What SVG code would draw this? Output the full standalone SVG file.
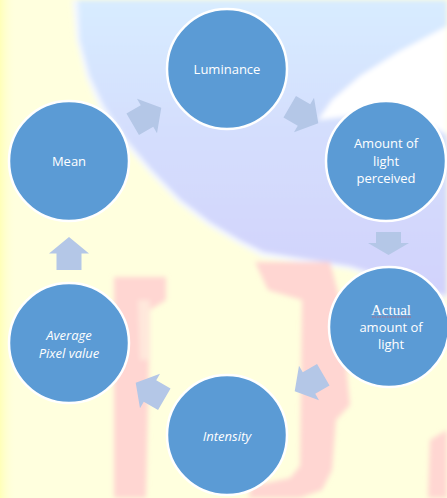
<svg xmlns="http://www.w3.org/2000/svg" width="447" height="498" viewBox="0 0 447 498">
<defs>
<style>
.node circle{fill:#5B9BD5;stroke:#FFFFFF;stroke-width:2.5}
.node text{fill:#FFFFFF;font-family:"Open Sans","Noto Sans",sans-serif;font-size:13px;text-anchor:middle}
.it{font-style:italic}
.arrow{fill:#B4C7E7}
.pink{fill:#FFD6D2}
</style>
<linearGradient id="blueG" x1="0" y1="0" x2="0" y2="1">
<stop offset="0" stop-color="#D8ECFF"/>
<stop offset="0.45" stop-color="#D4DEFD"/>
<stop offset="1" stop-color="#D2D2FC"/>
</linearGradient>
<linearGradient id="leftG" x1="0" y1="0" x2="1" y2="0">
<stop offset="0" stop-color="#FFFFB8"/>
<stop offset="1" stop-color="#FFFFDC" stop-opacity="0"/>
</linearGradient>
<filter id="soft" x="-10%" y="-10%" width="120%" height="120%"><feGaussianBlur stdDeviation="2.5"/></filter>
<path id="arr" d="M-16.5,-12.5 H0 V-20 L16.5,0 L0,20 V12.5 H-16.5 Z"/>
</defs>

<g id="background">
<rect x="0" y="0" width="447" height="498" fill="#FFFFDE"/>
<rect x="0" y="0" width="16" height="498" fill="url(#leftG)"/>
<g filter="url(#soft)">
<path d="M72,0 L447,0 L447,300 L420,292 L350,270 L300,262 L262,257 L238,244 L208,226 L178,203 L150,174 L122,142 L100,110 L86,78 L76,40 Z" fill="#F4F8FF"/>
<path d="M78,0 L447,0 L447,296 L420,288 L350,266 L300,258 L264,252 L240,240 L210,222 L180,199 L152,170 L125,138 L104,106 L90,76 L80,40 Z" fill="url(#blueG)"/>
<path d="M318,120 L332,100 L360,76 L398,52 L447,26 L447,135 L400,108 L350,116 Z" fill="#FFFFFF"/>
<path class="pink" d="M255,262 L330,262 L340,300 L348,385 L350,405 L336,420 L332,470 L322,490 L300,498 L248,498 L252,486 L290,478 L300,466 L302,300 L268,290 Z"/>
<path class="pink" d="M114,277 L166,277 L166,300 L150,310 L146,498 L114,498 Z"/>
<path d="M138,300 L150,300 L150,360 L140,360 Z" fill="#FFE8DC"/>
<path class="pink" d="M430,440 L447,430 L447,498 L428,498 Z"/>
</g>
</g>

<g id="connectors">
<use href="#arr" class="arrow" transform="translate(147,116) rotate(-30)"/>
<use href="#arr" class="arrow" transform="translate(304,115) rotate(30)"/>
<path class="arrow" d="M376,232 H401 V243 H409 L388.5,255 L368,243 H376 Z"/>
<use href="#arr" class="arrow" transform="translate(309,383) rotate(150)"/>
<use href="#arr" class="arrow" transform="translate(150,391) rotate(210)"/>
<use href="#arr" class="arrow" transform="translate(69,253.5) rotate(-90)"/>
</g>

<g id="luminance" class="node">
<circle cx="227" cy="69" r="60"/>
<text x="227" y="74">Luminance</text>
</g>
<g id="amount" class="node">
<circle cx="386" cy="161" r="60"/>
<text x="386" y="148">Amount of</text>
<text x="386" y="166">light</text>
<text x="386" y="183">perceived</text>
</g>
<g id="actual" class="node">
<circle cx="389" cy="327" r="60"/>
<text x="391" y="315" style="font-family:'Liberation Serif','DejaVu Serif',serif;font-size:15px">Actual</text>
<path d="M372,317 H412" stroke="#E05050" stroke-width="0.7" stroke-dasharray="1.5,1"/>
<text x="391" y="332">amount of</text>
<text x="391" y="349">light</text>
</g>
<g id="intensity" class="node">
<circle cx="227" cy="435" r="60"/>
<text class="it" x="227" y="441">Intensity</text>
</g>
<g id="average" class="node">
<circle cx="69" cy="343" r="60"/>
<text class="it" x="69" y="340">Average</text>
<text class="it" x="69" y="358">Pixel value</text>
</g>
<g id="mean" class="node">
<circle cx="69" cy="161" r="60"/>
<text x="69" y="166">Mean</text>
</g>
</svg>
